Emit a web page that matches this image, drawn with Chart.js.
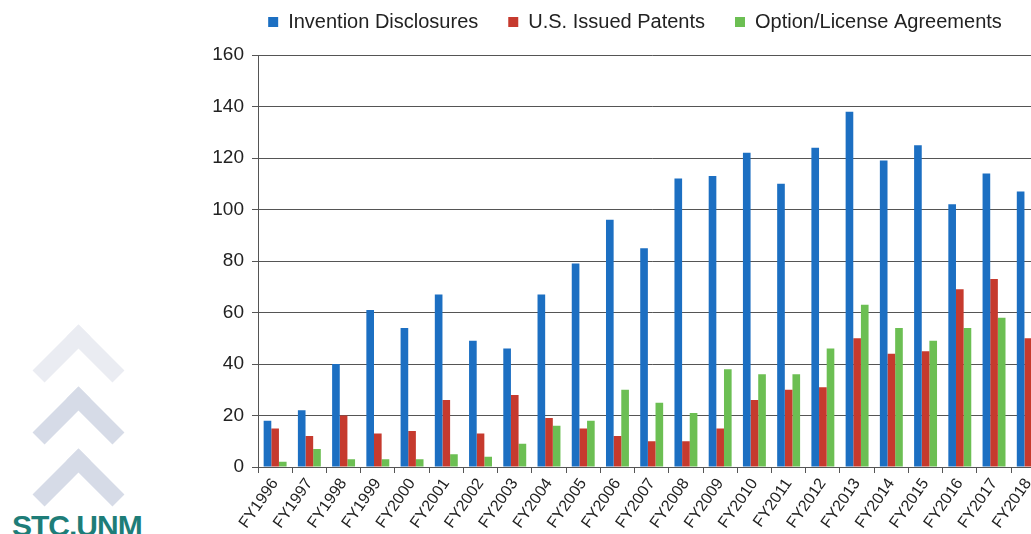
<!DOCTYPE html>
<html>
<head>
<meta charset="utf-8">
<script src="https://cdn.jsdelivr.net/npm/chart.js@4.4.1/dist/chart.umd.min.js"></script>
<style>
  html, body { margin: 0; padding: 0; background: #fff; overflow: hidden; }
  body { width: 1031px; height: 534px; position: relative; }
  #wrap { position: absolute; left: 200px; top: -18px; width: 846px; height: 578px; }
  .chev {
    position: absolute; width: 48px; height: 48px;
    border-top: 17px solid #d6dbe7; border-left: 17px solid #d6dbe7;
    transform: rotate(45deg);
  }
  .logo {
    position: absolute; left: 12px; top: 509px;
    font: bold 30px "Liberation Sans", Arial, sans-serif;
    color: #1e7d78; letter-spacing: -1px;
  }
</style>
</head>
<body>
<div class="chev" style="left:46px; top:338px; border-color:#eaecf2;"></div>
<div class="chev" style="left:46px; top:400px;"></div>
<div class="chev" style="left:46px; top:462px;"></div>
<div class="logo">STC.UNM</div>
<div id="wrap"><canvas id="chart"></canvas></div>
<script>
  const AXIS = "#555555";
  const TEXT = "#222222";

  const years = [
    "FY1996", "FY1997", "FY1998", "FY1999", "FY2000", "FY2001", "FY2002", "FY2003",
    "FY2004", "FY2005", "FY2006", "FY2007", "FY2008", "FY2009", "FY2010", "FY2011",
    "FY2012", "FY2013", "FY2014", "FY2015", "FY2016", "FY2017", "FY2018",
  ];
  const disclosures = [18, 22, 40, 61, 54, 67, 49, 46, 67, 79, 96, 85, 112, 113, 122, 110, 124, 138, 119, 125, 102, 114, 107];
  const patents = [15, 12, 20, 13, 14, 26, 13, 28, 19, 15, 12, 10, 10, 15, 26, 30, 31, 50, 44, 45, 69, 73, 50];
  const licenses = [2, 7, 3, 3, 3, 5, 4, 9, 16, 18, 30, 25, 21, 38, 36, 36, 46, 63, 54, 49, 54, 58, 51];

  const seriesNames = ["Invention Disclosures", "U.S. Issued Patents", "Option/License Agreements"];
  const seriesColors = ["#1c6fc2", "#c63a2e", "#6cbf53"];

  const datasets = [disclosures, patents, licenses].map((data, i) => ({
    label: seriesNames[i],
    data,
    backgroundColor: seriesColors[i],
    borderWidth: 0,
    categoryPercentage: 0.67,
    barPercentage: 1.0,
  }));

  // extra room under the legend, and nudge it a bit right, like the original
  const legendGap = {
    id: "legendGap",
    beforeInit(chart) {
      const fit = chart.legend.fit;
      chart.legend.fit = function () {
        fit.call(this);
        this.height += 13;
        if (this.lineWidths && this.lineWidths.length) this.lineWidths[0] -= 24;
      };
    },
  };

  new Chart(document.getElementById("chart"), {
    type: "bar",
    data: { labels: years, datasets },
    plugins: [legendGap],
    options: {
      responsive: true,
      maintainAspectRatio: false,
      animation: false,
      layout: { padding: 0 },
      plugins: {
        tooltip: { enabled: false },
        legend: {
          position: "top",
          labels: {
            boxWidth: 10,
            boxHeight: 10,
            padding: 30,
            color: TEXT,
            font: { family: "Liberation Sans, Arial, sans-serif", size: 20 },
          },
        },
      },
      scales: {
        x: {
          afterFit: (s) => { s.height = 93; },
          grid: { drawOnChartArea: false, offset: true, tickLength: 6, color: AXIS },
          border: { display: true, color: AXIS, width: 1 },
          ticks: {
            color: TEXT,
            minRotation: 55,
            maxRotation: 55,
            autoSkip: false,
            padding: 2,
            font: { family: "Liberation Sans, Arial, sans-serif", size: 16 },
          },
        },
        y: {
          min: 0,
          max: 160,
          afterFit: (s) => { s.width = 58; },
          grid: { color: AXIS, lineWidth: 1, tickLength: 6 },
          border: { display: true, color: AXIS, width: 1 },
          ticks: {
            stepSize: 20,
            color: TEXT,
            padding: 8,
            font: { family: "Liberation Sans, Arial, sans-serif", size: 19 },
          },
        },
      },
    },
  });
</script>
</body>
</html>
